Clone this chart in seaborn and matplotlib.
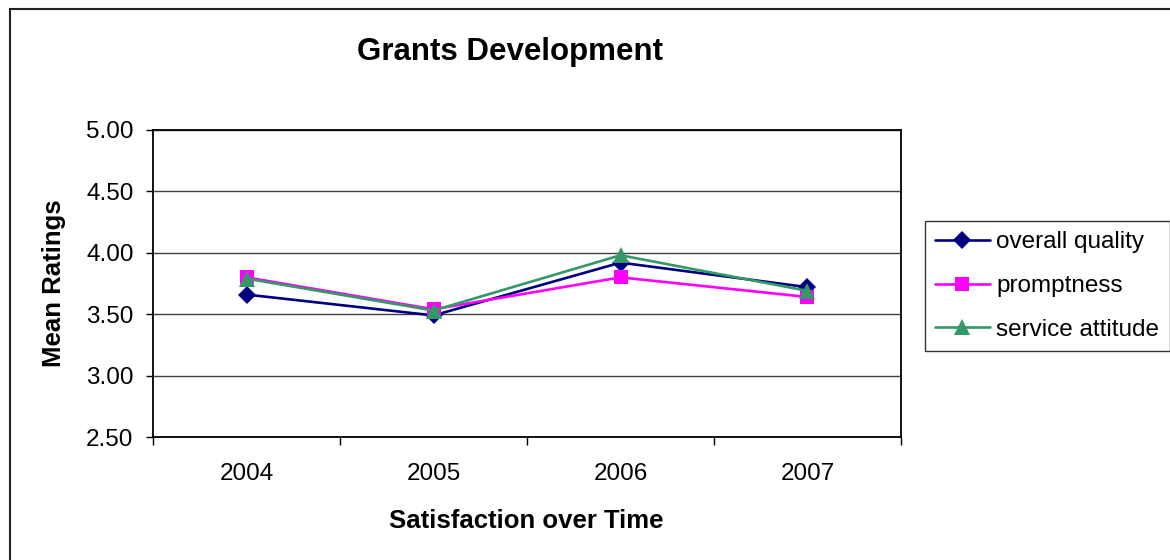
import pandas as pd
import seaborn as sns
import matplotlib.pyplot as plt
from matplotlib.patches import Rectangle
from matplotlib.ticker import FixedLocator

years = ['2004', '2005', '2006', '2007']
overall_quality = [3.66, 3.49, 3.92, 3.72]
promptness = [3.80, 3.54, 3.80, 3.64]
service_attitude = [3.79, 3.53, 3.98, 3.69]
series_names = ['overall quality', 'promptness', 'service attitude']
y_ticks = [2.50, 3.00, 3.50, 4.00, 4.50, 5.00]

df = pd.DataFrame({
    'year': years * 3,
    'rating': overall_quality + promptness + service_attitude,
    'series': [n for n in series_names for _ in years],
})

sns.set_style('white')
plt.rcParams['font.family'] = ['Liberation Sans', 'DejaVu Sans']
plt.rcParams['text.color'] = 'black'
plt.rcParams['xtick.color'] = 'black'
plt.rcParams['ytick.color'] = 'black'

W, H = 1170, 560
fig = plt.figure(figsize=(W / 100, H / 100), dpi=100)
L, R, T, B = 153, 901, 130, 437
ax = fig.add_axes([L / W, 1 - B / H, (R - L) / W, (B - T) / H])

colors = {'overall quality': '#000080', 'promptness': '#FF00FF', 'service attitude': '#339966'}
markers = {'overall quality': 'D', 'promptness': 's', 'service attitude': '^'}
sns.lineplot(data=df, x='year', y='rating', hue='series', style='series',
             palette=colors, markers=markers, dashes=False, linewidth=1.9,
             markeredgewidth=0, ax=ax, zorder=3)

msize = {'overall quality': 9, 'promptness': 9.5, 'service attitude': 11}
for line, name in zip(ax.lines, series_names):
    line.set_markersize(msize[name])

ax.set_xlim(-0.5, 3.5)
ax.set_ylim(2.5, 5.0)
ax.set_yticks(y_ticks)
ax.set_yticklabels([f'{v:.2f}' for v in y_ticks])
ax.yaxis.grid(True, color='#404040', linewidth=1)
ax.set_axisbelow(True)
for s in ax.spines.values():
    s.set_color('black')
    s.set_linewidth(1.3)
ax.tick_params(axis='y', direction='out', length=5, width=1, pad=9,
               labelsize=17.5, left=True, color='black', labelcolor='black')
ax.tick_params(axis='x', which='major', length=0, pad=19, labelsize=17.5,
               labelcolor='black')
ax.xaxis.set_minor_locator(FixedLocator([-0.5, 0.5, 1.5, 2.5, 3.5]))
ax.tick_params(axis='x', which='minor', direction='out', length=6, width=1,
               bottom=True, color='black')
ax.set_xlabel('')
ax.set_ylabel('')

handles, labels = ax.get_legend_handles_labels()
ax.get_legend().remove()
for h, name in zip(handles, labels):
    h.set_markersize(msize[name])
    h.set_linewidth(1.9)
leg = fig.legend(handles, labels, loc='upper left',
                 bbox_to_anchor=(925 / W, 1 - 221 / H), fontsize=17.5,
                 frameon=True, fancybox=False, borderaxespad=0,
                 borderpad=0.42, labelspacing=0.9, handlelength=2.24,
                 handletextpad=0.28)
leg.get_frame().set_edgecolor('black')
leg.get_frame().set_linewidth(1)
for t in leg.get_texts():
    t.set_color('black')

fig.text(510 / W, 1 - 52 / H, 'Grants Development', ha='center', va='center',
         fontsize=22.5, fontweight='bold', color='black')
fig.text(526 / W, 1 - 521 / H, 'Satisfaction over Time', ha='center', va='center',
         fontsize=18.5, fontweight='bold', color='black')
fig.text(54 / W, 1 - 283 / H, 'Mean Ratings', ha='center', va='center',
         rotation=90, fontsize=18.5, fontweight='bold', color='black')

fig.patches.append(Rectangle((10 / W, -0.1), 1.2, 1.1 - 9 / H, transform=fig.transFigure,
                             fill=False, edgecolor='#222222', linewidth=1.5))

fig.savefig('out.png', dpi=100)
